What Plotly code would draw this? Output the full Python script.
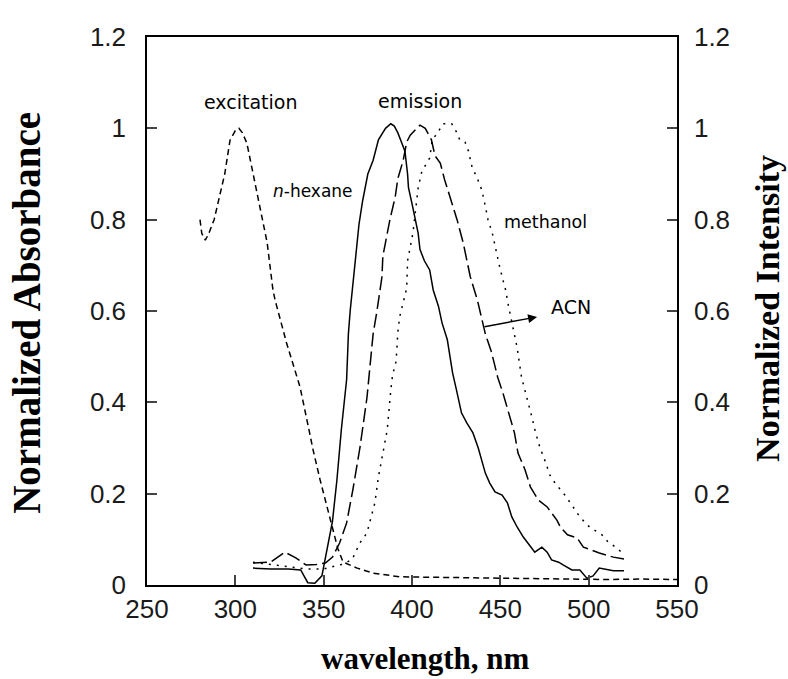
import plotly.graph_objects as go

# ---- data ----
exc_x = [280, 281, 283, 285, 288, 290, 294, 297, 300, 302, 304, 306.5, 309, 311, 314, 318, 321.3, 322.5, 329,
         336.6, 340.6, 344, 348, 352, 355, 358, 361, 369, 378, 393, 410, 430, 450, 470, 490, 510, 530, 550]
exc_y = [0.80, 0.77, 0.755, 0.77, 0.80, 0.836, 0.90, 0.974, 0.995, 1.0, 0.99, 0.968, 0.92, 0.88, 0.82, 0.75, 0.646,
         0.624, 0.53, 0.434, 0.36, 0.296, 0.23, 0.17, 0.12, 0.08, 0.05, 0.037, 0.026, 0.018, 0.017, 0.016, 0.015,
         0.013, 0.012, 0.012, 0.013, 0.012]

hex_x = [310, 320, 330, 337, 341, 345, 349, 352, 355, 357.5, 360, 363, 364, 365, 366, 367, 369, 370, 372, 375, 378,
         381, 385, 388, 390, 392, 394, 396, 397.5, 398, 400, 402, 403.5, 404.5, 407, 410, 412, 415, 417, 420, 421.5,
         423, 425, 428, 431, 434.5, 437.5, 439.5, 441.5, 444, 447, 451, 454, 456.5, 459.5, 463, 467, 469.5, 473.5,
         476.5, 479, 483, 485.5, 490.5, 495, 499, 502.5, 506, 514, 520]
hex_y = [0.037, 0.035, 0.035, 0.033, 0.005, 0.004, 0.02, 0.08, 0.14, 0.23, 0.34, 0.45, 0.55, 0.60, 0.64, 0.68, 0.75,
         0.79, 0.84, 0.90, 0.93, 0.975, 1.0, 1.01, 1.005, 0.99, 0.97, 0.95, 0.90, 0.87, 0.835, 0.80, 0.77, 0.735,
         0.71, 0.69, 0.646, 0.61, 0.574, 0.537, 0.50, 0.464, 0.43, 0.377, 0.355, 0.333, 0.30, 0.274, 0.245, 0.223,
         0.204, 0.197, 0.18, 0.149, 0.127, 0.105, 0.083, 0.072, 0.083, 0.072, 0.055, 0.05, 0.044, 0.033, 0.033,
         0.015, 0.02, 0.037, 0.031, 0.031]

acn_x = [310, 320, 328, 334, 340, 346, 351, 355, 359, 363, 366.5, 370.5, 374.5, 376, 377.5, 378, 380, 382, 383,
         383.5, 386, 387.5, 390.5, 392, 395, 397, 399, 404.5, 407.5, 411, 413, 416, 418.5, 421.5, 423, 425.5, 429,
         433, 437, 439.5, 441.5, 445, 448.5, 451.5, 454.5, 458, 460, 464, 467, 471.5, 476.5, 482, 484, 488, 493.5,
         497, 506, 514, 520]
acn_y = [0.048, 0.05, 0.072, 0.06, 0.044, 0.045, 0.048, 0.061, 0.092, 0.136, 0.208, 0.30, 0.41, 0.47, 0.52, 0.55,
         0.596, 0.646, 0.675, 0.72, 0.77, 0.80, 0.85, 0.89, 0.93, 0.97, 0.985, 1.007, 1.0, 0.975, 0.94, 0.924, 0.887,
         0.85, 0.83, 0.80, 0.749, 0.675, 0.624, 0.58, 0.55, 0.51, 0.455, 0.42, 0.377, 0.333, 0.289, 0.252, 0.215,
         0.186, 0.171, 0.142, 0.127, 0.11, 0.103, 0.083, 0.07, 0.061, 0.057]

meth_x = [310, 320, 330, 340, 350, 355, 360, 366, 370.5, 374.5, 379, 381, 383.5, 386, 388, 389, 391, 391.5, 392, 393,
          395, 397, 397.5, 399.5, 400.5, 403.5, 405.5, 410, 411.5, 414.5, 417.5, 422.5, 425.5, 427, 430, 432, 434,
          437, 439.5, 441.5, 443, 445.5, 447, 449, 451, 453, 454.5, 457, 459.5, 462, 464, 466, 468, 470, 472.5,
          475.5, 478, 481, 486.5, 490.5, 495, 500.5, 507.5, 511, 516, 519]
meth_y = [0.05, 0.045, 0.04, 0.035, 0.035, 0.04, 0.045, 0.055, 0.092, 0.114, 0.18, 0.237, 0.289, 0.34, 0.427, 0.46,
          0.49, 0.52, 0.554, 0.587, 0.617, 0.65, 0.71, 0.745, 0.77, 0.87, 0.905, 0.935, 0.975, 0.99, 1.01, 1.01,
          0.99, 0.975, 0.97, 0.95, 0.915, 0.89, 0.865, 0.83, 0.80, 0.77, 0.74, 0.707, 0.675, 0.646, 0.613, 0.57,
          0.52, 0.455, 0.427, 0.40, 0.366, 0.333, 0.30, 0.27, 0.241, 0.223, 0.197, 0.175, 0.149, 0.127, 0.11, 0.094,
          0.081, 0.07]

x_ticks = [250, 300, 350, 400, 450, 500, 550]
y_ticks = [0, 0.2, 0.4, 0.6, 0.8, 1, 1.2]
y_tick_labels = ["0", "0.2", "0.4", "0.6", "0.8", "1", "1.2"]

# ---- figure ----
fig = go.Figure()
lw = 1.5
fig.add_trace(go.Scatter(x=exc_x, y=exc_y, mode="lines", name="excitation",
                         line=dict(color="black", width=lw, dash="6px,4px"), yaxis="y"))
fig.add_trace(go.Scatter(x=hex_x, y=hex_y, mode="lines", name="n-hexane",
                         line=dict(color="black", width=lw), yaxis="y2"))
fig.add_trace(go.Scatter(x=acn_x, y=acn_y, mode="lines", name="ACN",
                         line=dict(color="black", width=lw, dash="14px,5px"), yaxis="y2"))
fig.add_trace(go.Scatter(x=meth_x, y=meth_y, mode="lines", name="methanol",
                         line=dict(color="black", width=lw, dash="2px,6px"), yaxis="y2"))

tickfont = dict(family="Liberation Sans, Arial", size=26, color="#1a1a1a")
fig.update_layout(
    width=788, height=679,
    margin=dict(l=147, r=111, t=37, b=94),
    paper_bgcolor="white", plot_bgcolor="white",
    showlegend=False,
    xaxis=dict(range=[250, 550], tickvals=x_ticks, ticks="inside", ticklen=10, tickwidth=1.5,
               showline=True, linecolor="black", linewidth=1.5, mirror=True,
               showgrid=False, zeroline=False, tickfont=tickfont, ticklabelstandoff=0),
    yaxis=dict(range=[0, 1.2], tickvals=y_ticks, ticktext=y_tick_labels, ticks="inside", ticklen=10,
               tickwidth=1.5, showline=True, linecolor="black", linewidth=1.5,
               showgrid=False, zeroline=False, tickfont=tickfont, ticklabelstandoff=14),
    yaxis2=dict(range=[0, 1.2], tickvals=y_ticks, ticktext=y_tick_labels, ticks="inside", ticklen=10,
                tickwidth=1.5, showline=True, linecolor="black", linewidth=1.5, overlaying="y", side="right",
                showgrid=False, zeroline=False, tickfont=tickfont, ticklabelstandoff=10),
)

titlefont = dict(family="Liberation Serif, Times New Roman", color="black")
ann = [
    dict(text="<b>Normalized Absorbance</b>", x=-0.228, y=0.497, textangle=-90,
         font=dict(size=39, **titlefont)),
    dict(text="<b>Normalized Intensity</b>", x=1.171, y=0.505, textangle=-90,
         font=dict(size=34, **titlefont)),
    dict(text="<b>wavelength, nm</b>", x=0.526, y=-0.135, font=dict(size=31, **titlefont)),
]
for a in ann:
    fig.add_annotation(xref="paper", yref="paper", showarrow=False, xanchor="center", yanchor="middle", **a)

lblfont = dict(family="DejaVu Sans, Verdana", color="black")
labels = [
    ("excitation", 308.3, 1.058, 19),
    ("emission", 404.5, 1.06, 19),
    ("<i>n</i>-hexane", 344, 0.863, 17),
    ("methanol", 475.3, 0.795, 17.5),
    ("ACN", 490, 0.609, 19),
]
for t, x, y, s in labels:
    fig.add_annotation(x=x, y=y, xref="x", yref="y", text=t, showarrow=False,
                       font=dict(size=s, **lblfont))

# arrow pointing to the ACN curve
fig.add_annotation(x=470.8, y=0.587, ax=440.2, ay=0.565, xref="x", yref="y", axref="x", ayref="y",
                   text="", showarrow=True, arrowhead=2, arrowsize=1.2, arrowwidth=1.5, arrowcolor="black")

fig.write_html("out.html", config={"displayModeBar": False},
               post_script="document.body.style.margin='0';document.body.style.overflow='hidden';")
